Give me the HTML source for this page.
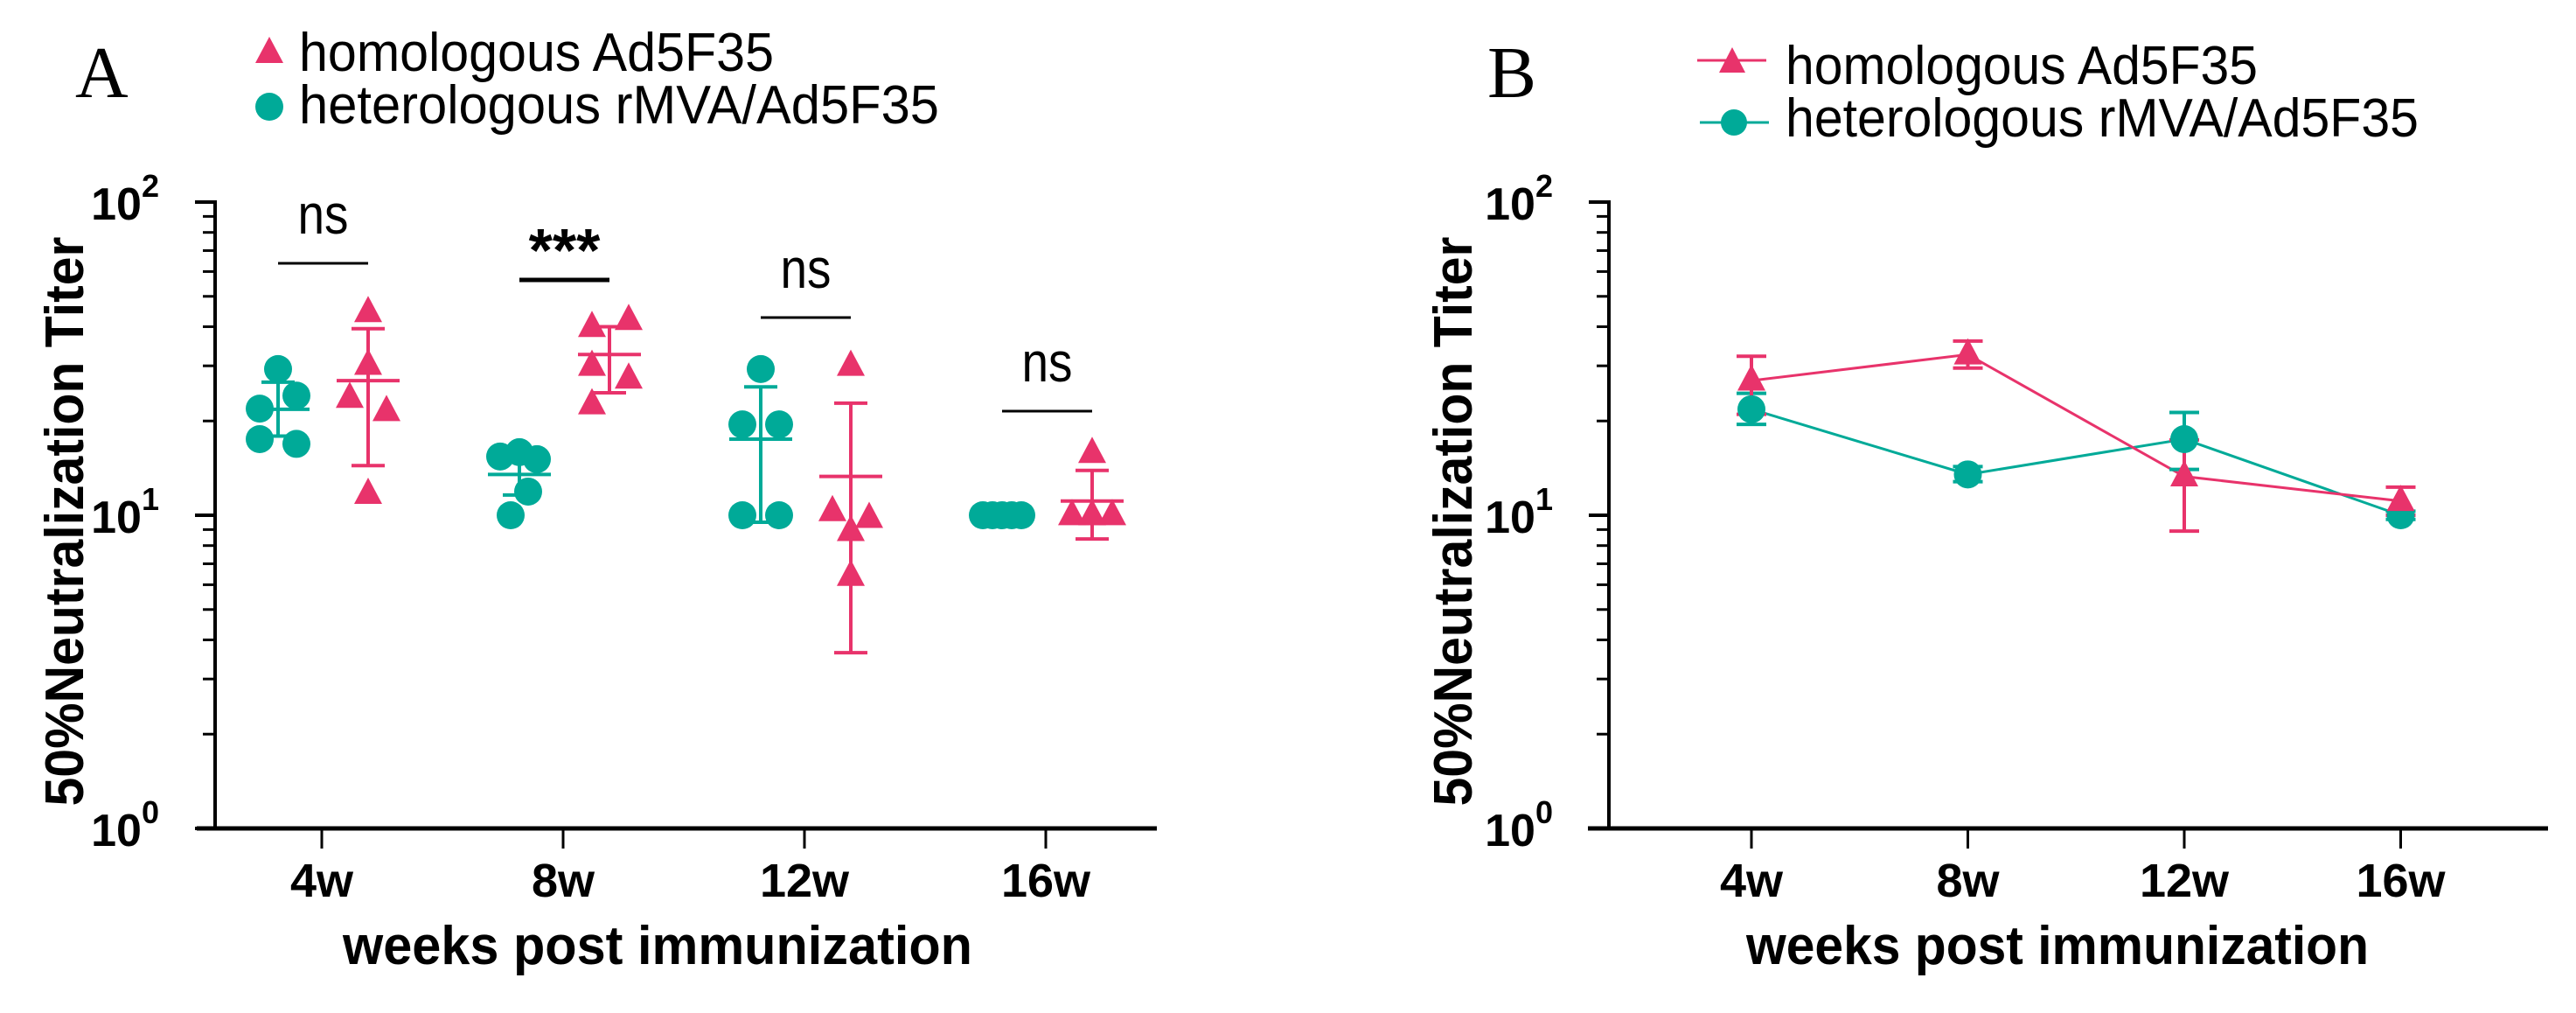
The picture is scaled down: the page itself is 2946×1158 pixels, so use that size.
<!DOCTYPE html>
<html><head><meta charset="utf-8"><style>
html,body{margin:0;padding:0;background:#fff;}
svg{display:block;font-family:"Liberation Sans",Arial,sans-serif;}
</style></head><body>
<svg id="fig" width="2946" height="1158" viewBox="0 0 2946 1158" xmlns="http://www.w3.org/2000/svg"></svg>
<script>
// ---- data ----
const weeks = ['4w','8w','12w','16w'];
const homPoints = [[44.5,30.2,23.7,21.5,11.7],[42,39.9,30,27.3,22.6],[30,10.3,9.8,8.9,6.4],[15.8,10,10,10,10]];
const hetPoints = [[29.3,24.1,21.9,17.5,16.9],[15.9,15.4,15.1,11.9,10],[29.3,19.5,19.5,10,10],[10,10,10,10,10]];
const homMean = [26.9,32.6,13.3,11.1];
const homSdHi = [39.4,40,22.8,13.9];
const homSdLo = [14.4,24.6,3.64,8.4];
const hetMean = [21.8,13.5,17.5,10];
const hetSdHi = [26.6,15.6,25.7,10];
const hetSdLo = [17.9,11.6,9.5,10];
// panel B (mean ± SEM)
const homSemHi = [32.2,36,17.4,12.3];
const homSemLo = [21,29.5,8.9,10];
const hetSemHi = [24.5,14.3,21.3,10.3];
const hetSemLo = [19.5,12.8,14.0,9.7];
const sigLabels = ['ns','***','ns','ns'];
const sigHeights = [301,320,363,470];
// jitter offsets (px) for individual points
const homJit = [[0,0,-21,21,0],[22,-20,-20,22,-20],[0,-21,21,0,0],[0,-23,0,23,0]];
const hetJit = [[0,21,-21,-21,21],[0,-22,20,10,-10],[0,-21,21,-21,21],[-22,-11,0,11,22]];

const PINK = '#E8336B', TEAL = '#00AA98';
const NS = 'http://www.w3.org/2000/svg';
const svg = document.getElementById('fig');
function el(tag, attrs, parent){const e=document.createElementNS(NS,tag);for(const k in attrs)e.setAttribute(k,attrs[k]);(parent||svg).appendChild(e);return e;}
function yScale(v){return 947 - 358*Math.log10(v);}

function tri(g,cx,cy,color,name){
  const s=32,h=30;
  const p=el('polygon',{points:`${cx},${cy-h*0.62} ${cx-s/2},${cy+h*0.38} ${cx+s/2},${cy+h*0.38}`,fill:color},g);
  
  
  return p;
}
function circ(g,cx,cy,color,name){
  const c=el('circle',{cx:cx,cy:cy,r:16,fill:color},g);
  
  
  return c;
}

function axes(ax0, xStart, xEnd, catX, prefix){
  const g=el('g',{});
  
  
  el('line',{x1:ax0,y1:229,x2:ax0,y2:949,stroke:'#000','stroke-width':4},g);
  el('line',{x1:xStart,y1:947,x2:xEnd,y2:947,stroke:'#000','stroke-width':5},g);
  for(let d=0; d<2; d++){
    for(let m=2;m<=9;m++){
      const y=yScale(m*Math.pow(10,d));
      el('line',{x1:ax0-14,y1:y,x2:ax0,y2:y,stroke:'#000','stroke-width':3},g);
    }
  }
  [0,1,2].forEach(d=>{
    const y=yScale(Math.pow(10,d));
    el('line',{x1:ax0-23,y1:y,x2:ax0,y2:y,stroke:'#000','stroke-width':4},g);
    const t=el('text',{x:ax0-64,y:y+20,'text-anchor':'end','font-size':52,'font-weight':'bold'},g);
    
    
    t.appendChild(document.createTextNode('10'));
    const s=el('tspan',{dy:-26,'font-size':36},t);
    s.textContent=String(d);
  });
  weeks.forEach((w,i)=>{
    const x=catX(i);
    el('line',{x1:x,y1:947,x2:x,y2:970,stroke:'#000','stroke-width':3},g);
    const t=el('text',{x:x,y:1025,'text-anchor':'middle','font-size':54,'font-weight':'bold'},g);
    
    
    t.textContent=w;
  });
}

// ---------- Panel A ----------
const catA = i => 368 + i*276;
axes(246, 225, 1323, catA, 'panel-a');

const pA=el('g',{}); 


weeks.forEach((w,i)=>{
  const xh = catA(i)+53, xt = catA(i)-50;
  hetPoints[i].forEach((v,j)=>circ(pA, xt+hetJit[i][j], yScale(v), TEAL, 'het-point-'+w));
  el('line',{x1:xt,y1:yScale(hetSdHi[i]),x2:xt,y2:yScale(hetSdLo[i]),stroke:TEAL,'stroke-width':4},pA);
  el('line',{x1:xt-19,y1:yScale(hetSdHi[i]),x2:xt+19,y2:yScale(hetSdHi[i]),stroke:TEAL,'stroke-width':4},pA);
  el('line',{x1:xt-19,y1:yScale(hetSdLo[i]),x2:xt+19,y2:yScale(hetSdLo[i]),stroke:TEAL,'stroke-width':4},pA);
  el('line',{x1:xt-36,y1:yScale(hetMean[i]),x2:xt+36,y2:yScale(hetMean[i]),stroke:TEAL,'stroke-width':4},pA);
  homPoints[i].forEach((v,j)=>tri(pA, xh+homJit[i][j], yScale(v), PINK, 'hom-point-'+w));
  el('line',{x1:xh,y1:yScale(homSdHi[i]),x2:xh,y2:yScale(homSdLo[i]),stroke:PINK,'stroke-width':4},pA);
  el('line',{x1:xh-19,y1:yScale(homSdHi[i]),x2:xh+19,y2:yScale(homSdHi[i]),stroke:PINK,'stroke-width':4},pA);
  el('line',{x1:xh-19,y1:yScale(homSdLo[i]),x2:xh+19,y2:yScale(homSdLo[i]),stroke:PINK,'stroke-width':4},pA);
  el('line',{x1:xh-36,y1:yScale(homMean[i]),x2:xh+36,y2:yScale(homMean[i]),stroke:PINK,'stroke-width':4},pA);
  const sy=sigHeights[i];
  const star = sigLabels[i]==='***';
  const bl=el('line',{x1:xt,y1:sy,x2:xh,y2:sy,stroke:'#000','stroke-width':star?5:3},pA);
  
  
  const attrs = star ? {x:(xt+xh)/2,y:sy-10,'text-anchor':'middle','font-size':70,'font-weight':'bold'}
                     : {x:(xt+xh)/2,y:sy-34,'text-anchor':'middle','font-size':64,textLength:58,lengthAdjust:'spacingAndGlyphs'};
  const st=el('text',attrs,pA);
  
  
  st.textContent=sigLabels[i];
});

// ---------- Panel B ----------
const catB = i => 2003 + i*247.5;
axes(1840, 1816, 2914, catB, 'panel-b');
const pB=el('g',{});


el('polyline',{points:weeks.map((w,i)=>catB(i)+','+yScale(hetMean[i])).join(' '),fill:'none',stroke:TEAL,'stroke-width':3},pB);
el('polyline',{points:weeks.map((w,i)=>catB(i)+','+yScale(homMean[i])).join(' '),fill:'none',stroke:PINK,'stroke-width':3},pB);
weeks.forEach((w,i)=>{
  const x=catB(i);
  [[hetSemHi,hetSemLo,TEAL],[homSemHi,homSemLo,PINK]].forEach(([hi,lo,c])=>{
    el('line',{x1:x,y1:yScale(hi[i]),x2:x,y2:yScale(lo[i]),stroke:c,'stroke-width':4},pB);
    el('line',{x1:x-17,y1:yScale(hi[i]),x2:x+17,y2:yScale(hi[i]),stroke:c,'stroke-width':4},pB);
    el('line',{x1:x-17,y1:yScale(lo[i]),x2:x+17,y2:yScale(lo[i]),stroke:c,'stroke-width':4},pB);
  });
  circ(pB, x, yScale(hetMean[i]), TEAL, 'het-mean-'+w);
  tri(pB, x, yScale(homMean[i]), PINK, 'hom-mean-'+w);
});
</script>
<svg style="position:absolute;left:0;top:0" width="2946" height="1158" viewBox="0 0 2946 1158" xmlns="http://www.w3.org/2000/svg" font-family="Liberation Sans, Arial, sans-serif">
  <text x="86" y="111" font-family="Liberation Serif, serif" font-size="84">A</text>
  <text x="1701" y="111" font-family="Liberation Serif, serif" font-size="84">B</text>
  <g>
    <polygon points="308,42 292,72 324,72" fill="#E8336B"/>
    <text x="342" y="81" font-size="62" textLength="543" lengthAdjust="spacingAndGlyphs">homologous Ad5F35</text>
    <circle cx="308" cy="122" r="16" fill="#00AA98"/>
    <text x="342" y="141" font-size="62" textLength="732" lengthAdjust="spacingAndGlyphs">heterologous rMVA/Ad5F35</text>
  </g>
  <g>
    <line x1="1941" y1="69" x2="2020" y2="69" stroke="#E8336B" stroke-width="3"/>
    <polygon points="1981,54 1966,83 1996,83" fill="#E8336B"/>
    <text x="2042" y="96" font-size="62" textLength="540" lengthAdjust="spacingAndGlyphs">homologous Ad5F35</text>
    <line x1="1944" y1="140" x2="2023" y2="140" stroke="#00AA98" stroke-width="3"/>
    <circle cx="1983" cy="140" r="15" fill="#00AA98"/>
    <text x="2042" y="156" font-size="62" textLength="724" lengthAdjust="spacingAndGlyphs">heterologous rMVA/Ad5F35</text>
  </g>
  <text transform="translate(95,596) rotate(-90)" text-anchor="middle" font-size="62" font-weight="bold" textLength="651" lengthAdjust="spacingAndGlyphs">50%Neutralization Titer</text>
  <text transform="translate(1683,596) rotate(-90)" text-anchor="middle" font-size="62" font-weight="bold" textLength="651" lengthAdjust="spacingAndGlyphs">50%Neutralization Titer</text>
  <text x="392" y="1102" font-size="62" font-weight="bold" textLength="720" lengthAdjust="spacingAndGlyphs">weeks post immunization</text>
  <text x="1997" y="1102" font-size="62" font-weight="bold" textLength="712" lengthAdjust="spacingAndGlyphs">weeks post immunization</text>
</svg>
</body></html>
